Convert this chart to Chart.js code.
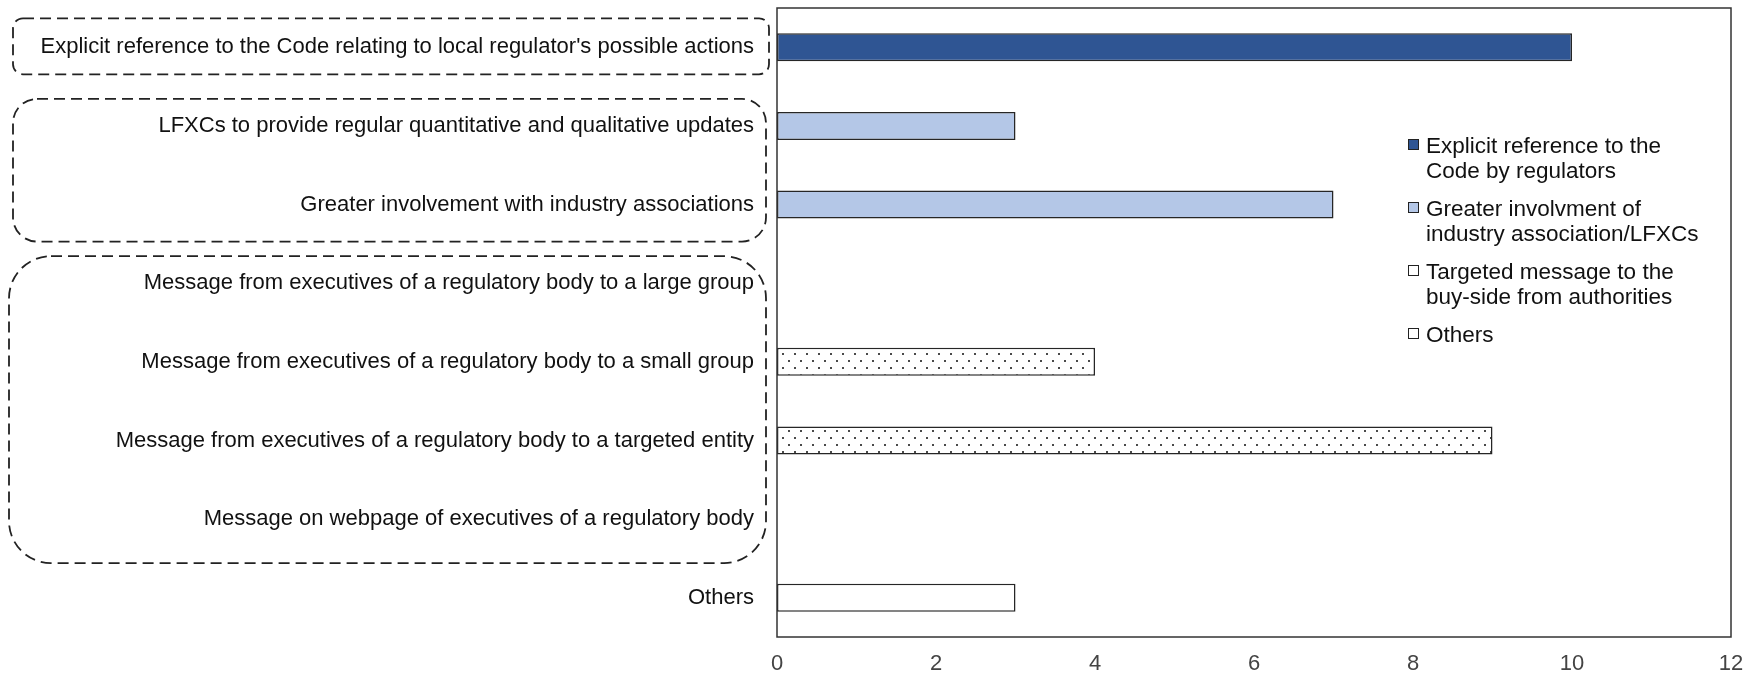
<!DOCTYPE html>
<html>
<head>
<meta charset="utf-8">
<script src="https://cdn.jsdelivr.net/npm/chart.js@4"></script>
<style>
  body { margin: 0; background: #fff; }
  canvas { display: block; }
</style>
</head>
<body>
<canvas id="chart" width="1758" height="674"></canvas>
<script>
// ===== Data =====
const categories = [
    "Explicit reference to the Code relating to local regulator's possible actions",
    'LFXCs to provide regular quantitative and qualitative updates',
    'Greater involvement with industry associations',
    'Message from executives of a regulatory body to a large group',
    'Message from executives of a regulatory body to a small group',
    'Message from executives of a regulatory body to a targeted entity',
    'Message on webpage of executives of a regulatory body',
    'Others'
];
const seriesNames = [
    ['Explicit reference to the', 'Code by regulators'],
    ['Greater involvment of', 'industry association/LFXCs'],
    ['Targeted message to the', 'buy-side from authorities'],
    ['Others']
];
const explicitRef = [10, null, null, null, null, null, null, null];
const industryInvolvement = [null, 3, 7, null, null, null, null, null];
const targetedMessage = [null, null, null, 0, 4, 9, 0, null];
const othersValues = [null, null, null, null, null, null, null, 3];
const xTicks = [0, 2, 4, 6, 8, 10, 12];

// ===== Styles =====
const FONT = "'Liberation Sans', Arial, sans-serif";

// dotted fill like Excel's pattern
function makeDots() {
    const c = document.createElement('canvas');
    c.width = 12; c.height = 14;
    const g = c.getContext('2d');
    g.fillStyle = '#fff';
    g.fillRect(0, 0, 12, 14);
    g.fillStyle = '#4a4a4a';
    g.fillRect(2, 3, 2, 2);
    g.fillRect(8, 10, 2, 2);
    return g.createPattern(c, 'repeat');
}
const dots = makeDots();

// dashed rounded boxes around label groups (category index ranges)
const labelGroups = [
    { first: 0, last: 0, x0: 13, xGap: 8, above: 29, below: 27, r: 10 },
    { first: 1, last: 2, x0: 13, xGap: 11, above: 27, below: 37, r: 24 },
    { first: 3, last: 6, x0: 9, xGap: 11, above: 27, below: 44, r: 42 }
];

const groupBoxes = {
    id: 'groupBoxes',
    afterDraw(chart) {
        const { ctx, chartArea, scales } = chart;
        ctx.save();
        // plot frame
        ctx.strokeStyle = '#333';
        ctx.lineWidth = 1.5;
        ctx.strokeRect(chartArea.left, chartArea.top, chartArea.right - chartArea.left, chartArea.bottom - chartArea.top);
        // dashed groups
        ctx.setLineDash([11, 6]);
        ctx.lineWidth = 1.8;
        ctx.strokeStyle = '#222';
        labelGroups.forEach(b => {
            const y0 = scales.y.getPixelForValue(b.first) - b.above;
            const y1 = scales.y.getPixelForValue(b.last) + b.below;
            const x1 = chartArea.left - b.xGap;
            ctx.beginPath();
            ctx.roundRect(b.x0, y0, x1 - b.x0, y1 - y0, b.r);
            ctx.stroke();
        });
        ctx.restore();
    }
};

const sideLegend = {
    id: 'sideLegend',
    afterDraw(chart) {
        const { ctx } = chart;
        const x = 1408, lineH = 25, itemGap = 13;
        let y = 153;
        ctx.save();
        ctx.font = '22.5px ' + FONT;
        ctx.textBaseline = 'alphabetic';
        chart.data.datasets.forEach((ds, i) => {
            ctx.fillStyle = ds.backgroundColor;
            ctx.fillRect(x, y - 14, 11, 11);
            ctx.strokeStyle = '#222';
            ctx.lineWidth = 1;
            ctx.strokeRect(x + 0.5, y - 13.5, 10, 10);
            ctx.fillStyle = '#111';
            seriesNames[i].forEach((line, k) => ctx.fillText(line, x + 18, y + k * lineH));
            y += seriesNames[i].length * lineH + itemGap;
        });
        ctx.restore();
    }
};

const barStyle = { borderColor: '#262626', borderWidth: 1.5, borderSkipped: false, barPercentage: 0.356, categoryPercentage: 1 };

new Chart(document.getElementById('chart'), {
    type: 'bar',
    data: {
        labels: categories,
        datasets: [
            { label: seriesNames[0].join(' '), data: explicitRef, backgroundColor: '#2f5593', ...barStyle },
            { label: seriesNames[1].join(' '), data: industryInvolvement, backgroundColor: '#b4c7e7', ...barStyle },
            { label: seriesNames[2].join(' '), data: targetedMessage, backgroundColor: dots, ...barStyle },
            { label: seriesNames[3].join(' '), data: othersValues, backgroundColor: '#ffffff', ...barStyle }
        ]
    },
    options: {
        indexAxis: 'y',
        responsive: false,
        animation: false,
        layout: { padding: { top: 8, right: 27, left: 0, bottom: 0 } },
        plugins: { legend: { display: false }, tooltip: { enabled: false } },
        scales: {
            x: {
                stacked: true,
                min: 0,
                max: 12,
                afterBuildTicks: s => { s.ticks = xTicks.map(v => ({ value: v })); },
                afterFit: s => { s.height = 37; s.paddingLeft = 0; s.paddingRight = 0; },
                grid: { display: false, drawTicks: false },
                border: { display: false },
                ticks: { color: '#444', font: { family: FONT, size: 22 }, padding: 14 }
            },
            y: {
                stacked: true,
                afterFit: s => { s.width = 777; s.paddingTop = 0; s.paddingBottom = 0; },
                grid: { display: false, drawTicks: false },
                border: { display: false },
                ticks: { color: '#111', font: { family: FONT, size: 22 }, padding: 23, autoSkip: false }
            }
        }
    },
    plugins: [groupBoxes, sideLegend]
});
</script>
</body>
</html>
